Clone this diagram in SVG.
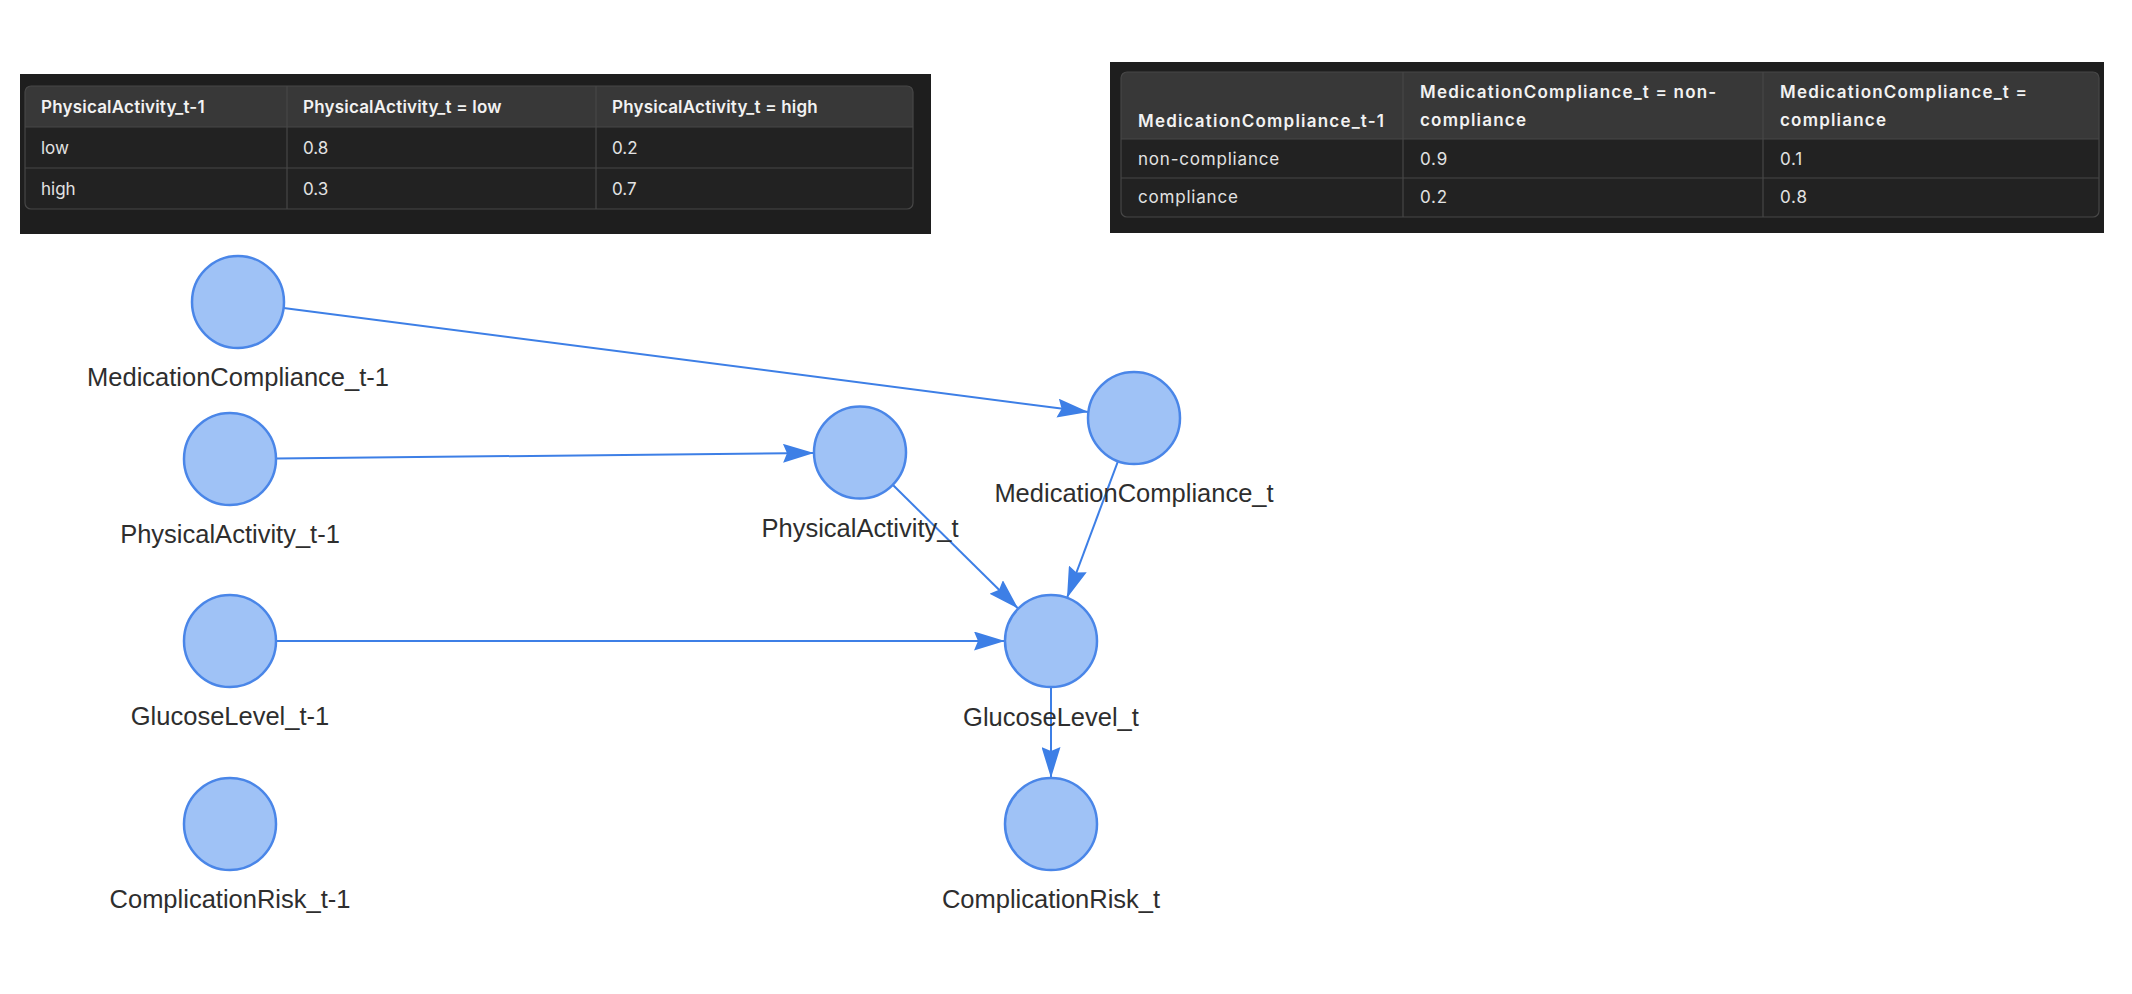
<svg xmlns="http://www.w3.org/2000/svg" width="2132" height="994" viewBox="0 0 2132 994">
<style>
.panel{fill:#1e1e1e}
.hdr{fill:#383838}
.body{fill:#222222}
.grid{stroke:#474747;stroke-width:1.2;fill:none}
.th{font-family:Inter,"Noto Sans",sans-serif;font-weight:600;font-size:17px;fill:#f2f2f2}
.td{font-family:Inter,"Noto Sans",sans-serif;font-weight:400;font-size:17px;fill:#e2e2e2}
.t2 .th{letter-spacing:1.2px}
.t2 .td{letter-spacing:0.8px}
.t1 .th{letter-spacing:0.2px}
.node circle{fill:#9fc2f6;stroke:#4a86e8;stroke-width:2.5}
.node text{font-family:"Liberation Sans",Arial,sans-serif;font-size:25.5px;fill:#2e2e2e;text-anchor:middle}
.edge{stroke:#3d7fe6;stroke-width:2;fill:none;marker-end:url(#arrow)}
</style>
<defs>
<marker id="arrow" markerUnits="userSpaceOnUse" viewBox="0 0 31 19" markerWidth="31" markerHeight="19" refX="31" refY="9.5" orient="auto">
<path d="M0,0 L31,9.5 L0,19 L4,9.5 Z" fill="#3d7fe6"/>
</marker>
</defs>
<rect width="2132" height="994" fill="#ffffff"/>

<g id="table-physicalactivity" class="t1">
<rect class="panel" x="20" y="74" width="911" height="160"/>
<path class="hdr" d="M31,86 H907 A6,6 0 0 1 913,92 V127 H25 V92 A6,6 0 0 1 31,86 Z"/>
<path class="body" d="M25,127 H913 V203 A6,6 0 0 1 907,209 H31 A6,6 0 0 1 25,203 Z"/>
<rect class="grid" x="25" y="86" width="888" height="123" rx="6"/>
<line class="grid" x1="25" y1="127" x2="913" y2="127"/>
<line class="grid" x1="25" y1="168" x2="913" y2="168"/>
<line class="grid" x1="287" y1="86" x2="287" y2="209"/>
<line class="grid" x1="596" y1="86" x2="596" y2="209"/>
<text class="th" x="41" y="113">PhysicalActivity_t-1</text>
<text class="th" x="303" y="113">PhysicalActivity_t = low</text>
<text class="th" x="612" y="113">PhysicalActivity_t = high</text>
<text class="td" x="41" y="154">low</text>
<text class="td" x="303" y="154">0.8</text>
<text class="td" x="612" y="154">0.2</text>
<text class="td" x="41" y="195">high</text>
<text class="td" x="303" y="195">0.3</text>
<text class="td" x="612" y="195">0.7</text>
</g>

<g id="table-medicationcompliance" class="t2">
<rect class="panel" x="1110" y="62" width="994" height="171"/>
<path class="hdr" d="M1127,72 H2093 A6,6 0 0 1 2099,78 V139 H1121 V78 A6,6 0 0 1 1127,72 Z"/>
<path class="body" d="M1121,139 H2099 V211 A6,6 0 0 1 2093,217 H1127 A6,6 0 0 1 1121,211 Z"/>
<rect class="grid" x="1121" y="72" width="978" height="145" rx="6"/>
<line class="grid" x1="1121" y1="139" x2="2099" y2="139"/>
<line class="grid" x1="1121" y1="178" x2="2099" y2="178"/>
<line class="grid" x1="1403" y1="72" x2="1403" y2="217"/>
<line class="grid" x1="1763" y1="72" x2="1763" y2="217"/>
<text class="th" x="1138" y="127">MedicationCompliance_t-1</text>
<text class="th" x="1420" y="98">MedicationCompliance_t = non-</text>
<text class="th" x="1420" y="126">compliance</text>
<text class="th" x="1780" y="98">MedicationCompliance_t =</text>
<text class="th" x="1780" y="126">compliance</text>
<text class="td" x="1138" y="165">non-compliance</text>
<text class="td" x="1420" y="165">0.9</text>
<text class="td" x="1780" y="165">0.1</text>
<text class="td" x="1138" y="203">compliance</text>
<text class="td" x="1420" y="203">0.2</text>
<text class="td" x="1780" y="203">0.8</text>
</g>

<g id="connectors">
<line class="edge" x1="283.6" y1="307.9" x2="1088.4" y2="412.1"/>
<line class="edge" x1="276" y1="458.5" x2="814" y2="453"/>
<line class="edge" x1="892.7" y1="484.8" x2="1018.3" y2="608.7"/>
<line class="edge" x1="1118" y1="461.1" x2="1067" y2="597.9"/>
<line class="edge" x1="276" y1="641" x2="1005" y2="641"/>
<line class="edge" x1="1051" y1="687" x2="1051" y2="778"/>
</g>

<g id="MedicationCompliance_t-1" class="node"><circle cx="238" cy="302" r="46"/><text x="238" y="386">MedicationCompliance_t-1</text></g>
<g id="PhysicalActivity_t-1" class="node"><circle cx="230" cy="459" r="46"/><text x="230" y="543">PhysicalActivity_t-1</text></g>
<g id="GlucoseLevel_t-1" class="node"><circle cx="230" cy="641" r="46"/><text x="230" y="725">GlucoseLevel_t-1</text></g>
<g id="ComplicationRisk_t-1" class="node"><circle cx="230" cy="824" r="46"/><text x="230" y="908">ComplicationRisk_t-1</text></g>
<g id="PhysicalActivity_t" class="node"><circle cx="860" cy="452.5" r="46"/><text x="860" y="537">PhysicalActivity_t</text></g>
<g id="MedicationCompliance_t" class="node"><circle cx="1134" cy="418" r="46"/><text x="1134" y="502">MedicationCompliance_t</text></g>
<g id="GlucoseLevel_t" class="node"><circle cx="1051" cy="641" r="46"/><text x="1051" y="726">GlucoseLevel_t</text></g>
<g id="ComplicationRisk_t" class="node"><circle cx="1051" cy="824" r="46"/><text x="1051" y="908">ComplicationRisk_t</text></g>
</svg>
